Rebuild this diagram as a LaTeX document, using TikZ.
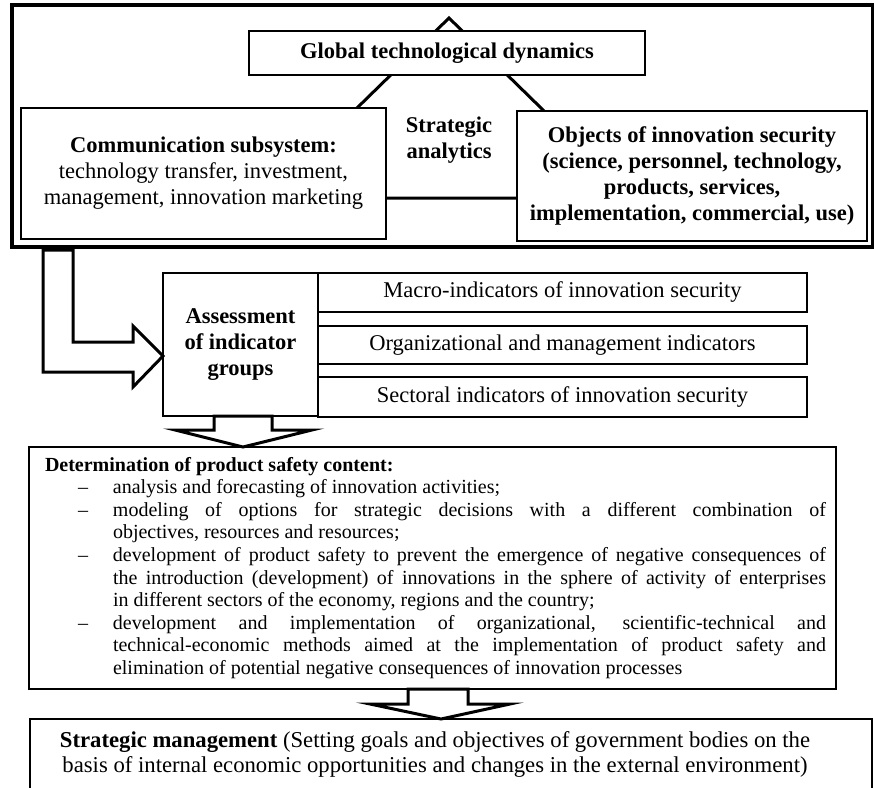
\documentclass[tikz,border=0pt]{standalone}
\usepackage{fontspec}
\setmainfont{Liberation Serif}
\usetikzlibrary{calc}
\begin{document}
\begin{tikzpicture}[x=1pt,y=-1pt,
  box/.style={draw, line width=1.5pt, fill=white, inner sep=0pt, outer sep=0pt, align=center,
    font=\fontsize{22.5}{26}\selectfont},
  blk/.style={draw, line width=3pt, fill=white, line join=miter},
  frm/.style={draw, line width=3.5pt, inner sep=0pt, outer sep=0pt},
  tri/.style={draw, line width=3pt, line join=miter},
  plain/.style={inner sep=0pt, outer sep=0pt, align=center, font=\fontsize{22.5}{26}\selectfont},
]
\clip (0,0) rectangle (874,787);
% outer frame
\node[frm, minimum width=861pt, minimum height=242pt] (frame) at (442.5,126) {};
% triangle behind the boxes
\coordinate (apex) at (449,18);
\coordinate (bl) at (265,198);
\coordinate (br) at (633,198);
\draw[tri] (apex) -- (bl) -- (br) -- cycle;
% top boxes
\node[box, minimum width=396pt, minimum height=44pt] (gtd) at (447,53) {\textbf{Global technological dynamics}};
\node[box, minimum width=365pt, minimum height=131pt] (comm) at (203.5,173.5)
  {\textbf{Communication subsystem:}\\technology transfer, investment,\\management, innovation marketing};
\node[plain] (sa) at (449,140) {\textbf{Strategic}\\\textbf{analytics}};
\node[box, minimum width=350pt, minimum height=130pt] (obj) at (692,176)
  {\textbf{Objects of innovation security}\\\textbf{(science, personnel, technology,}\\\textbf{products, services,}\\\textbf{implementation, commercial, use)}};
% assessment group
\node[box, minimum width=155pt, minimum height=143pt] (assess) at (240.5,344.5)
  {\textbf{Assessment}\\\textbf{of indicator}\\\textbf{groups}};
\node[box, minimum width=489pt, minimum height=39pt] (macro) at (562.5,292.5) {Macro-indicators of innovation security};
\node[box, minimum width=489pt, minimum height=38pt] (org) at (562.5,345) {Organizational and management indicators};
\node[box, minimum width=489pt, minimum height=40pt] (sect) at (562.5,397) {Sectoral indicators of innovation security};
% determination box
\node[box, minimum width=807pt, minimum height=242pt] (det) at (432.5,568) {};
\node[anchor=north west, inner sep=0pt, outer sep=0pt, text width=781pt, align=justify,
  font=\fontsize{20}{22.6}\selectfont] (dettext) at (45,457) {%
\hyphenpenalty=10000\exhyphenpenalty=10000
\noindent\textbf{Determination of product safety content:}\par
{\leftskip=68pt\relax
\noindent\llap{\makebox[35pt][l]{–}}analysis and forecasting of innovation activities;\par
\noindent\llap{\makebox[35pt][l]{–}}modeling of options for strategic decisions with a different combination of\linebreak objectives, resources and resources;\par
\noindent\llap{\makebox[35pt][l]{–}}development of product safety to prevent the emergence of negative consequences of\linebreak the introduction (development) of innovations in the sphere of activity of enterprises\linebreak in different sectors of the economy, regions and the country;\par
\noindent\llap{\makebox[35pt][l]{–}}development and implementation of organizational, scientific-technical and\linebreak technical-economic methods aimed at the implementation of product safety and\linebreak elimination of potential negative consequences of innovation processes\par}};
% strategic management box
\node[draw, line width=1.5pt, fill=white, inner sep=0pt, outer sep=0pt, anchor=north west,
  minimum width=842pt, minimum height=100pt] (sm) at (30,719) {};
\node[plain, font=\fontsize{22.7}{25}\selectfont] (smtext) at (435,754.5)
  {\textbf{Strategic management} (Setting goals and objectives of government bodies on the\\basis of internal economic opportunities and changes in the external environment)};
% block arrows
\draw[blk] (43,250) -- (73,250) -- (73,342) -- (133,342) -- (133,326) -- (assess.west |- 0,356)
  -- (133,387) -- (133,372) -- (43,372) -- cycle;
\draw[blk] (214,416) -- (272,416) -- (272,430) -- (312,430) -- (det.north -| 243,0)
  -- (175,430) -- (214,430) -- cycle;
\draw[blk] (408,689) -- (468,689) -- (468,704) -- (510,704) -- (sm.north -| 441,0)
  -- (370,704) -- (408,704) -- cycle;
\end{tikzpicture}
\end{document}
